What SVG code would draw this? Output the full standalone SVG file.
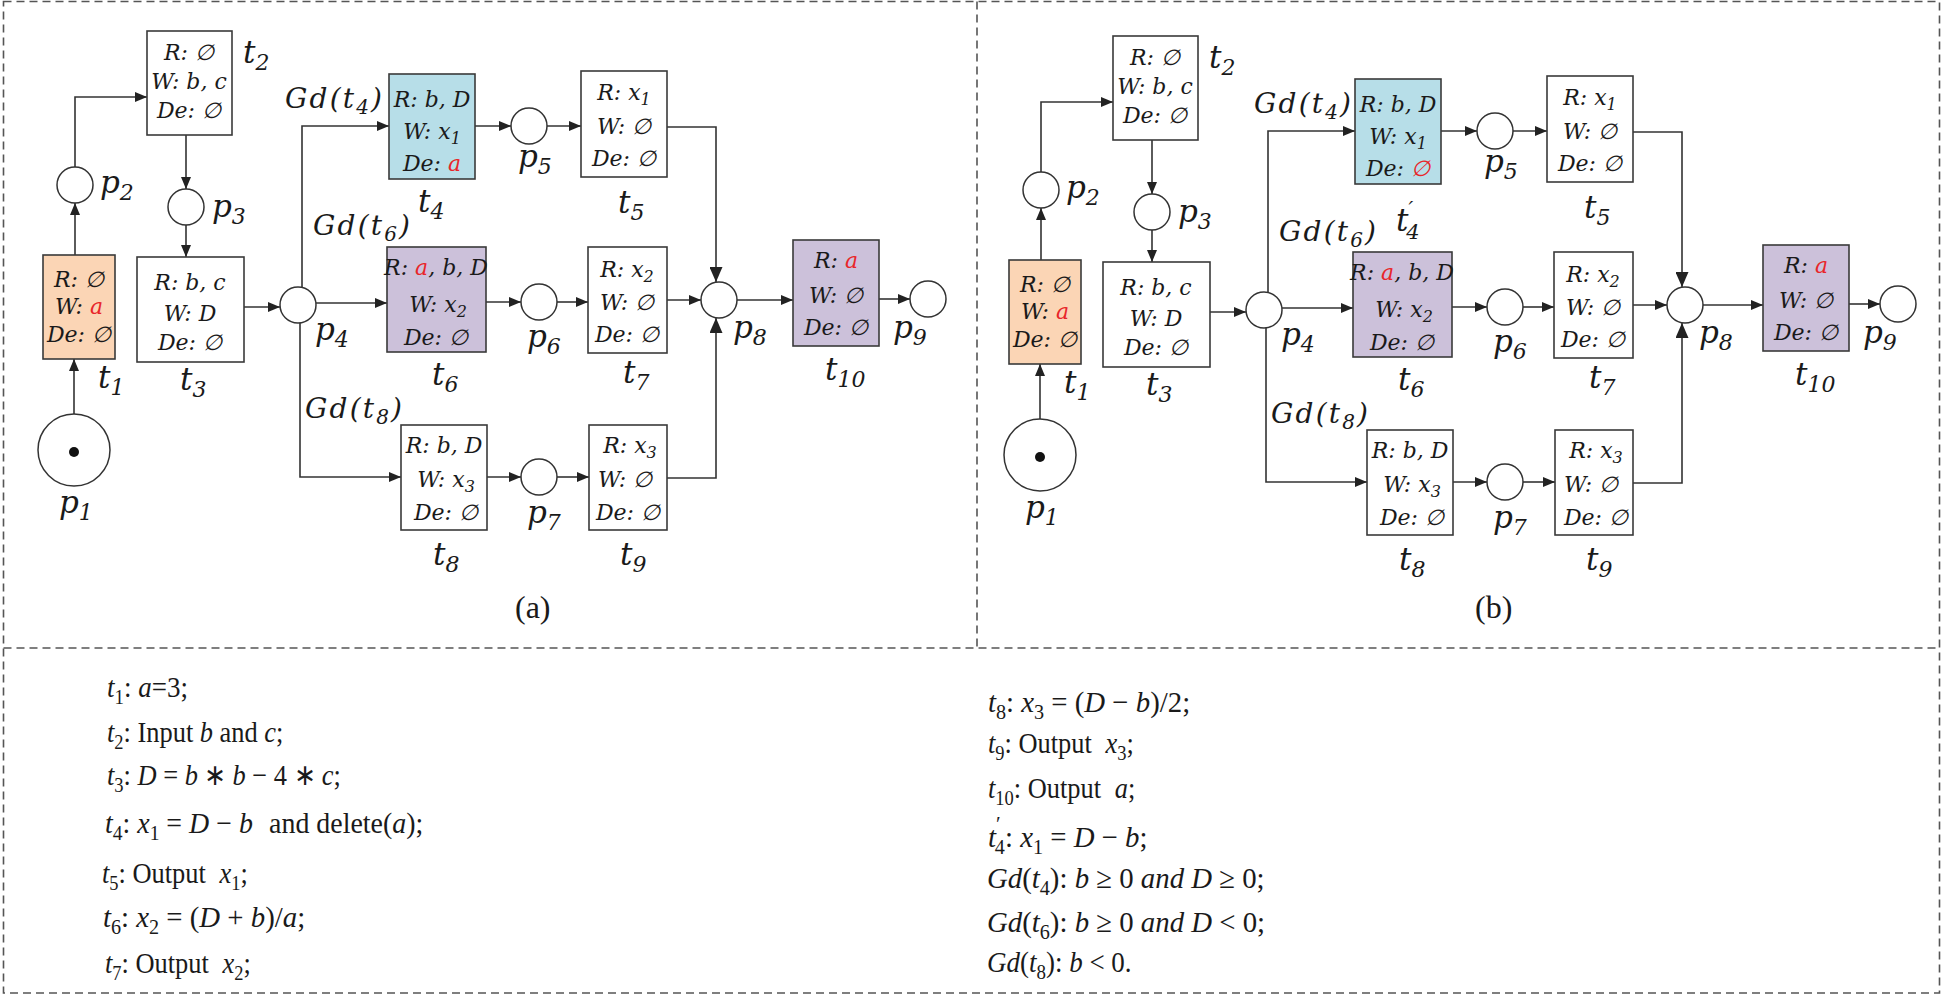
<svg xmlns="http://www.w3.org/2000/svg" width="1941" height="995" viewBox="0 0 1941 995">
<style>
.frame{fill:none;stroke:#555;stroke-width:1.6;stroke-dasharray:8 5}
.box{stroke:#3a3a3a;stroke-width:1.6}
.w{fill:#fff}.or{fill:#FBD5B5}.bl{fill:#B7DEE8}.pu{fill:#CCC1DA}
.pl{fill:#fff;stroke:#333;stroke-width:1.5}
.m{font-family:"DejaVu Serif",serif;font-style:italic;fill:#1a1a1a}
.bt{font-size:22px;text-anchor:middle}
.lb{font-size:31px}
.red{fill:#E8262A}
.e{fill:none;stroke:#333;stroke-width:1.6;marker-end:url(#ah)}
.e2{fill:none;stroke:#333;stroke-width:1.6;marker-end:url(#ah2)}
.cap{font-family:"Liberation Serif",serif;font-size:32px;fill:#1a1a1a}
.tx{font-family:"Liberation Serif",serif;font-size:30px;fill:#1a1a1a}
.i{font-style:italic}
</style>
<defs>
<marker id="ah" markerWidth="12" markerHeight="10" refX="12" refY="5" orient="auto" markerUnits="userSpaceOnUse"><path d="M0,0 L12,5 L0,10 z" fill="#222"/></marker>
<marker id="ah2" markerWidth="15" markerHeight="13" refX="15" refY="6.5" orient="auto" markerUnits="userSpaceOnUse"><path d="M0,0 L15,6.5 L0,13 z" fill="#222"/></marker>
</defs>
<rect width="1941" height="995" fill="#fff"/>
<g id="frame">
<rect class="frame" x="3.5" y="1.5" width="1936" height="991.5"/>
<line class="frame" x1="977" y1="1.5" x2="977" y2="648"/>
<line class="frame" x1="3.5" y1="648" x2="1939.5" y2="648"/>
</g>

<!-- Panel (a) -->
<g id="panel-a">
<g id="a-connectors">
<path class="e" d="M74,414 V359"/>
<path class="e" d="M75,255 V203"/>
<path class="e" d="M75,167 V97 H147"/>
<path class="e" d="M186,135 V189"/>
<path class="e" d="M186,225 V257"/>
<path class="e" d="M244,307 H280"/>
<path class="e" d="M302,288 V126 H389"/>
<path class="e" d="M316,303 H387"/>
<path class="e" d="M300,323 V477 H401"/>
<path class="e" d="M475,126 H511"/>
<path class="e" d="M547,126 H581"/>
<path class="e2" d="M667,127 H716 V282"/>
<path class="e" d="M486,302 H521"/>
<path class="e" d="M557,302 H588"/>
<path class="e" d="M667,300 H701"/>
<path class="e" d="M487,477 H521"/>
<path class="e" d="M557,477 H589"/>
<path class="e2" d="M667,478 H716 V318"/>
<path class="e" d="M737,300 H793"/>
<path class="e" d="M879,299 H910"/>
</g>
<g id="a-p1"><circle class="pl" cx="74" cy="450" r="36"/><circle cx="74" cy="452" r="5" fill="#111"/><text class="m lb" x="59" y="513">p<tspan dy="7" font-size="22">1</tspan></text></g>
<g id="a-t1"><rect class="box or" x="43" y="255" width="72" height="104"/>
<text class="m bt" x="79" y="287">R: ∅</text><text class="m bt" x="79" y="314">W: <tspan class="red">a</tspan></text><text class="m bt" x="79" y="342">De: ∅</text>
<text class="m lb" x="98" y="388">t<tspan dy="7" font-size="22">1</tspan></text></g>
<g id="a-p2"><circle class="pl" cx="75" cy="185" r="18"/><text class="m lb" x="100" y="193">p<tspan dy="7" font-size="22">2</tspan></text></g>
<g id="a-t2"><rect class="box w" x="147" y="31" width="85" height="104"/>
<text class="m bt" x="189" y="60">R: ∅</text><text class="m bt" x="189" y="89">W: b, c</text><text class="m bt" x="189" y="118">De: ∅</text>
<text class="m lb" x="243" y="63">t<tspan dy="7" font-size="22">2</tspan></text></g>
<g id="a-p3"><circle class="pl" cx="186" cy="207" r="18"/><text class="m lb" x="212" y="217">p<tspan dy="7" font-size="22">3</tspan></text></g>
<g id="a-t3"><rect class="box w" x="137" y="257" width="107" height="105"/>
<text class="m bt" x="190" y="290">R: b, c</text><text class="m bt" x="190" y="321">W: D</text><text class="m bt" x="190" y="350">De: ∅</text>
<text class="m lb" x="180" y="390">t<tspan dy="7" font-size="22">3</tspan></text></g>
<g id="a-p4"><circle class="pl" cx="298" cy="305" r="18"/><text class="m lb" x="315" y="340">p<tspan dy="7" font-size="22">4</tspan></text></g>
<g id="a-gd4"><text class="m" font-size="28" x="285" y="108" textLength="97">Gd(t<tspan dy="6" font-size="20">4</tspan><tspan dy="-6">)</tspan></text></g>
<g id="a-t4"><rect class="box bl" x="389" y="74" width="86" height="105"/>
<text class="m bt" x="432" y="107">R: b, D</text><text class="m bt" x="432" y="139">W: x<tspan dy="5" font-size="16">1</tspan></text><text class="m bt" x="432" y="171">De: <tspan class="red">a</tspan></text>
<text class="m lb" x="418" y="212">t<tspan dy="7" font-size="22">4</tspan></text></g>
<g id="a-gd6"><text class="m" font-size="28" x="313" y="235" textLength="97">Gd(t<tspan dy="6" font-size="20">6</tspan><tspan dy="-6">)</tspan></text></g>
<g id="a-t6"><rect class="box pu" x="387" y="247" width="99" height="105"/>
<text class="m bt" x="436" y="275">R: <tspan class="red">a</tspan>, b, D</text><text class="m bt" x="438" y="312">W: x<tspan dy="5" font-size="16">2</tspan></text><text class="m bt" x="436" y="345">De: ∅</text>
<text class="m lb" x="432" y="385">t<tspan dy="7" font-size="22">6</tspan></text></g>
<g id="a-gd8"><text class="m" font-size="28" x="305" y="418" textLength="97">Gd(t<tspan dy="6" font-size="20">8</tspan><tspan dy="-6">)</tspan></text></g>
<g id="a-t8"><rect class="box w" x="401" y="425" width="86" height="105"/>
<text class="m bt" x="444" y="453">R: b, D</text><text class="m bt" x="446" y="487">W: x<tspan dy="5" font-size="16">3</tspan></text><text class="m bt" x="446" y="520">De: ∅</text>
<text class="m lb" x="433" y="565">t<tspan dy="7" font-size="22">8</tspan></text></g>
<g id="a-p5"><circle class="pl" cx="529" cy="126" r="18"/><text class="m lb" x="518" y="167">p<tspan dy="7" font-size="22">5</tspan></text></g>
<g id="a-t5"><rect class="box w" x="581" y="71" width="86" height="106"/>
<text class="m bt" x="624" y="100">R: x<tspan dy="5" font-size="16">1</tspan></text><text class="m bt" x="624" y="134">W: ∅</text><text class="m bt" x="624" y="166">De: ∅</text>
<text class="m lb" x="618" y="213">t<tspan dy="7" font-size="22">5</tspan></text></g>
<g id="a-p6"><circle class="pl" cx="539" cy="302" r="18"/><text class="m lb" x="527" y="347">p<tspan dy="7" font-size="22">6</tspan></text></g>
<g id="a-t7"><rect class="box w" x="588" y="247" width="79" height="106"/>
<text class="m bt" x="627" y="277">R: x<tspan dy="5" font-size="16">2</tspan></text><text class="m bt" x="627" y="310">W: ∅</text><text class="m bt" x="627" y="342">De: ∅</text>
<text class="m lb" x="623" y="383">t<tspan dy="7" font-size="22">7</tspan></text></g>
<g id="a-p7"><circle class="pl" cx="539" cy="477" r="18"/><text class="m lb" x="527" y="523">p<tspan dy="7" font-size="22">7</tspan></text></g>
<g id="a-t9"><rect class="box w" x="589" y="425" width="78" height="105"/>
<text class="m bt" x="630" y="453">R: x<tspan dy="5" font-size="16">3</tspan></text><text class="m bt" x="625" y="487">W: ∅</text><text class="m bt" x="628" y="520">De: ∅</text>
<text class="m lb" x="620" y="565">t<tspan dy="7" font-size="22">9</tspan></text></g>
<g id="a-p8"><circle class="pl" cx="719" cy="300" r="18"/><text class="m lb" x="733" y="338">p<tspan dy="7" font-size="22">8</tspan></text></g>
<g id="a-t10"><rect class="box pu" x="793" y="240" width="86" height="106"/>
<text class="m bt" x="836" y="268">R: <tspan class="red">a</tspan></text><text class="m bt" x="836" y="303">W: ∅</text><text class="m bt" x="836" y="335">De: ∅</text>
<text class="m lb" x="825" y="380">t<tspan dy="7" font-size="22">10</tspan></text></g>
<g id="a-p9"><circle class="pl" cx="928" cy="299" r="18"/><text class="m lb" x="893" y="338">p<tspan dy="7" font-size="22">9</tspan></text></g>
<text class="cap" x="515" y="618">(a)</text>
</g>

<!-- Panel (b) -->
<g id="panel-b" transform="translate(966,5)">
<g id="b-connectors">
<path class="e" d="M74,414 V359"/>
<path class="e" d="M75,255 V203"/>
<path class="e" d="M75,167 V97 H147"/>
<path class="e" d="M186,135 V189"/>
<path class="e" d="M186,225 V257"/>
<path class="e" d="M244,307 H280"/>
<path class="e" d="M302,288 V126 H389"/>
<path class="e" d="M316,303 H387"/>
<path class="e" d="M300,323 V477 H401"/>
<path class="e" d="M475,126 H511"/>
<path class="e" d="M547,126 H581"/>
<path class="e2" d="M667,127 H716 V282"/>
<path class="e" d="M486,302 H521"/>
<path class="e" d="M557,302 H588"/>
<path class="e" d="M667,300 H701"/>
<path class="e" d="M487,477 H521"/>
<path class="e" d="M557,477 H589"/>
<path class="e2" d="M667,478 H716 V318"/>
<path class="e" d="M737,300 H797"/>
<path class="e" d="M883,299 H914"/>
</g>
<g id="b-p1"><circle class="pl" cx="74" cy="450" r="36"/><circle cx="74" cy="452" r="5" fill="#111"/><text class="m lb" x="59" y="513">p<tspan dy="7" font-size="22">1</tspan></text></g>
<g id="b-t1"><rect class="box or" x="43" y="255" width="72" height="104"/>
<text class="m bt" x="79" y="287">R: ∅</text><text class="m bt" x="79" y="314">W: <tspan class="red">a</tspan></text><text class="m bt" x="79" y="342">De: ∅</text>
<text class="m lb" x="98" y="388">t<tspan dy="7" font-size="22">1</tspan></text></g>
<g id="b-p2"><circle class="pl" cx="75" cy="185" r="18"/><text class="m lb" x="100" y="193">p<tspan dy="7" font-size="22">2</tspan></text></g>
<g id="b-t2"><rect class="box w" x="147" y="31" width="85" height="104"/>
<text class="m bt" x="189" y="60">R: ∅</text><text class="m bt" x="189" y="89">W: b, c</text><text class="m bt" x="189" y="118">De: ∅</text>
<text class="m lb" x="243" y="63">t<tspan dy="7" font-size="22">2</tspan></text></g>
<g id="b-p3"><circle class="pl" cx="186" cy="207" r="18"/><text class="m lb" x="212" y="217">p<tspan dy="7" font-size="22">3</tspan></text></g>
<g id="b-t3"><rect class="box w" x="137" y="257" width="107" height="105"/>
<text class="m bt" x="190" y="290">R: b, c</text><text class="m bt" x="190" y="321">W: D</text><text class="m bt" x="190" y="350">De: ∅</text>
<text class="m lb" x="180" y="390">t<tspan dy="7" font-size="22">3</tspan></text></g>
<g id="b-p4"><circle class="pl" cx="298" cy="305" r="18"/><text class="m lb" x="315" y="340">p<tspan dy="7" font-size="22">4</tspan></text></g>
<g id="b-gd4"><text class="m" font-size="28" x="288" y="108" textLength="97">Gd(t<tspan dy="6" font-size="20">4</tspan><tspan dy="-6">)</tspan></text></g>
<g id="b-t4p"><rect class="box bl" x="389" y="74" width="86" height="105"/>
<text class="m bt" x="432" y="107">R: b, D</text><text class="m bt" x="432" y="139">W: x<tspan dy="5" font-size="16">1</tspan></text><text class="m bt" x="432" y="171">De: <tspan class="red">∅</tspan></text>
<text class="m lb" x="430" y="226">t<tspan dy="-15" font-size="21">′</tspan><tspan dx="-7" dy="23" font-size="21">4</tspan></text></g>
<g id="b-gd6"><text class="m" font-size="28" x="313" y="236" textLength="97">Gd(t<tspan dy="6" font-size="20">6</tspan><tspan dy="-6">)</tspan></text></g>
<g id="b-t6"><rect class="box pu" x="387" y="247" width="99" height="105"/>
<text class="m bt" x="436" y="275">R: <tspan class="red">a</tspan>, b, D</text><text class="m bt" x="438" y="312">W: x<tspan dy="5" font-size="16">2</tspan></text><text class="m bt" x="436" y="345">De: ∅</text>
<text class="m lb" x="432" y="385">t<tspan dy="7" font-size="22">6</tspan></text></g>
<g id="b-gd8"><text class="m" font-size="28" x="305" y="418" textLength="97">Gd(t<tspan dy="6" font-size="20">8</tspan><tspan dy="-6">)</tspan></text></g>
<g id="b-t8"><rect class="box w" x="401" y="425" width="86" height="105"/>
<text class="m bt" x="444" y="453">R: b, D</text><text class="m bt" x="446" y="487">W: x<tspan dy="5" font-size="16">3</tspan></text><text class="m bt" x="446" y="520">De: ∅</text>
<text class="m lb" x="433" y="565">t<tspan dy="7" font-size="22">8</tspan></text></g>
<g id="b-p5"><circle class="pl" cx="529" cy="126" r="18"/><text class="m lb" x="518" y="167">p<tspan dy="7" font-size="22">5</tspan></text></g>
<g id="b-t5"><rect class="box w" x="581" y="71" width="86" height="106"/>
<text class="m bt" x="624" y="100">R: x<tspan dy="5" font-size="16">1</tspan></text><text class="m bt" x="624" y="134">W: ∅</text><text class="m bt" x="624" y="166">De: ∅</text>
<text class="m lb" x="618" y="213">t<tspan dy="7" font-size="22">5</tspan></text></g>
<g id="b-p6"><circle class="pl" cx="539" cy="302" r="18"/><text class="m lb" x="527" y="347">p<tspan dy="7" font-size="22">6</tspan></text></g>
<g id="b-t7"><rect class="box w" x="588" y="247" width="79" height="106"/>
<text class="m bt" x="627" y="277">R: x<tspan dy="5" font-size="16">2</tspan></text><text class="m bt" x="627" y="310">W: ∅</text><text class="m bt" x="627" y="342">De: ∅</text>
<text class="m lb" x="623" y="383">t<tspan dy="7" font-size="22">7</tspan></text></g>
<g id="b-p7"><circle class="pl" cx="539" cy="477" r="18"/><text class="m lb" x="527" y="523">p<tspan dy="7" font-size="22">7</tspan></text></g>
<g id="b-t9"><rect class="box w" x="589" y="425" width="78" height="105"/>
<text class="m bt" x="630" y="453">R: x<tspan dy="5" font-size="16">3</tspan></text><text class="m bt" x="625" y="487">W: ∅</text><text class="m bt" x="630" y="520">De: ∅</text>
<text class="m lb" x="620" y="565">t<tspan dy="7" font-size="22">9</tspan></text></g>
<g id="b-p8"><circle class="pl" cx="719" cy="300" r="18"/><text class="m lb" x="733" y="338">p<tspan dy="7" font-size="22">8</tspan></text></g>
<g id="b-t10"><rect class="box pu" x="797" y="240" width="86" height="106"/>
<text class="m bt" x="840" y="268">R: <tspan class="red">a</tspan></text><text class="m bt" x="840" y="303">W: ∅</text><text class="m bt" x="840" y="335">De: ∅</text>
<text class="m lb" x="829" y="380">t<tspan dy="7" font-size="22">10</tspan></text></g>
<g id="b-p9"><circle class="pl" cx="932" cy="299" r="18"/><text class="m lb" x="897" y="338">p<tspan dy="7" font-size="22">9</tspan></text></g>
<text class="cap" x="509" y="613">(b)</text>
</g>

<!-- Legend text -->
<g id="legend">
<text class="tx" transform="translate(107,697) scale(0.9,1)"><tspan class="i">t</tspan><tspan dy="7" font-size="21">1</tspan><tspan dy="-7">: </tspan><tspan class="i">a</tspan>=3;</text>
<text class="tx" transform="translate(107,742) scale(0.88,1)"><tspan class="i">t</tspan><tspan dy="7" font-size="21">2</tspan><tspan dy="-7">: Input </tspan><tspan class="i">b</tspan> and <tspan class="i">c</tspan>;</text>
<text class="tx" transform="translate(107,785) scale(0.88,1)"><tspan class="i">t</tspan><tspan dy="7" font-size="21">3</tspan><tspan dy="-7">: </tspan><tspan class="i">D</tspan> = <tspan class="i">b</tspan> ∗ <tspan class="i">b</tspan> − 4 ∗ <tspan class="i">c</tspan>;</text>
<text class="tx" transform="translate(105,833) scale(0.93,1)"><tspan class="i">t</tspan><tspan dy="7" font-size="21">4</tspan><tspan dy="-7">: </tspan><tspan class="i">x</tspan><tspan dy="7" font-size="21">1</tspan><tspan dy="-7"> = </tspan><tspan class="i">D</tspan> − <tspan class="i">b</tspan><tspan dx="10"> and delete(</tspan><tspan class="i">a</tspan>);</text>
<text class="tx" transform="translate(102,883) scale(0.88,1)"><tspan class="i">t</tspan><tspan dy="7" font-size="21">5</tspan><tspan dy="-7">: Output  </tspan><tspan class="i" dx="8">x</tspan><tspan dy="7" font-size="21">1</tspan><tspan dy="-7">;</tspan></text>
<text class="tx" transform="translate(103,927) scale(0.96,1)"><tspan class="i">t</tspan><tspan dy="7" font-size="21">6</tspan><tspan dy="-7">: </tspan><tspan class="i">x</tspan><tspan dy="7" font-size="21">2</tspan><tspan dy="-7"> = (</tspan><tspan class="i">D</tspan> + <tspan class="i">b</tspan>)/<tspan class="i">a</tspan>;</text>
<text class="tx" transform="translate(105,973) scale(0.88,1)"><tspan class="i">t</tspan><tspan dy="7" font-size="21">7</tspan><tspan dy="-7">: Output  </tspan><tspan class="i" dx="8">x</tspan><tspan dy="7" font-size="21">2</tspan><tspan dy="-7">;</tspan></text>

<text class="tx" transform="translate(988,712) scale(0.96,1)"><tspan class="i">t</tspan><tspan dy="7" font-size="21">8</tspan><tspan dy="-7">: </tspan><tspan class="i">x</tspan><tspan dy="7" font-size="21">3</tspan><tspan dy="-7"> = (</tspan><tspan class="i">D</tspan> − <tspan class="i">b</tspan>)/2;</text>
<text class="tx" transform="translate(988,753) scale(0.88,1)"><tspan class="i">t</tspan><tspan dy="7" font-size="21">9</tspan><tspan dy="-7">: Output  </tspan><tspan class="i" dx="8">x</tspan><tspan dy="7" font-size="21">3</tspan><tspan dy="-7">;</tspan></text>
<text class="tx" transform="translate(988,798) scale(0.88,1)"><tspan class="i">t</tspan><tspan dy="7" font-size="21">10</tspan><tspan dy="-7">: Output  </tspan><tspan class="i" dx="8">a</tspan>;</text>
<text class="tx" transform="translate(988,847) scale(0.96,1)"><tspan class="i">t</tspan><tspan dy="-16" font-size="22">′</tspan><tspan dx="-6" dy="23" font-size="21">4</tspan><tspan dy="-7">: </tspan><tspan class="i">x</tspan><tspan dy="7" font-size="21">1</tspan><tspan dy="-7"> = </tspan><tspan class="i">D</tspan> − <tspan class="i">b</tspan>;</text>
<text class="tx" transform="translate(987,888) scale(0.96,1)"><tspan class="i">Gd</tspan>(<tspan class="i">t</tspan><tspan dy="7" font-size="21">4</tspan><tspan dy="-7">): </tspan><tspan class="i">b</tspan> ≥ 0 <tspan class="i">and D</tspan> ≥ 0;</text>
<text class="tx" transform="translate(987,932) scale(0.96,1)"><tspan class="i">Gd</tspan>(<tspan class="i">t</tspan><tspan dy="7" font-size="21">6</tspan><tspan dy="-7">): </tspan><tspan class="i">b</tspan> ≥ 0 <tspan class="i">and D</tspan> &lt; 0;</text>
<text class="tx" transform="translate(987,972) scale(0.9,1)"><tspan class="i">Gd</tspan>(<tspan class="i">t</tspan><tspan dy="7" font-size="21">8</tspan><tspan dy="-7">): </tspan><tspan class="i">b</tspan> &lt; 0.</text>
</g>
</svg>
